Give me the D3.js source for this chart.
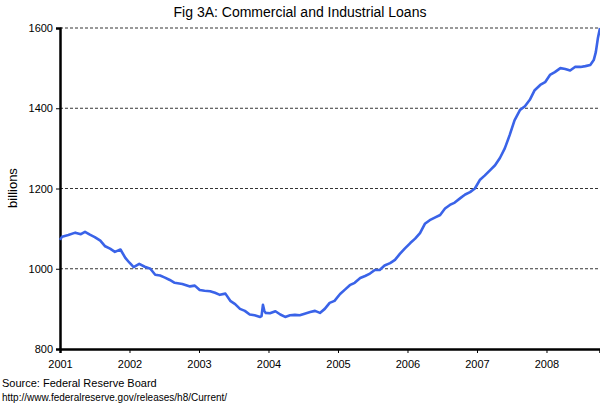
<!DOCTYPE html><html><head><script src="https://cdn.jsdelivr.net/npm/d3@7"></script>
<style>body{margin:0;background:#fff}text{font-family:"Liberation Sans",Arial,sans-serif}</style></head><body><svg width="600" height="405"></svg>
<script>
const dates=[2001.0,2001.03,2001.12,2001.22,2001.3,2001.36,2001.43,2001.5,2001.58,2001.65,2001.72,2001.79,2001.87,2001.94,2002.0,2002.06,2002.14,2002.22,2002.3,2002.37,2002.44,2002.51,2002.58,2002.65,2002.76,2002.87,2002.94,2003.01,2003.08,2003.16,2003.23,2003.3,2003.38,2003.45,2003.52,2003.59,2003.66,2003.73,2003.8,2003.88,2003.9,2003.92,2003.94,2003.96,2004.02,2004.1,2004.17,2004.24,2004.31,2004.38,2004.45,2004.52,2004.6,2004.67,2004.74,2004.81,2004.88,2004.95,2005.03,2005.1,2005.17,2005.24,2005.32,2005.39,2005.46,2005.53,2005.6,2005.67,2005.75,2005.82,2005.89,2005.96,2006.04,2006.11,2006.18,2006.25,2006.32,2006.4,2006.47,2006.54,2006.61,2006.68,2006.76,2006.83,2006.9,2006.97,2007.04,2007.11,2007.19,2007.26,2007.33,2007.4,2007.47,2007.54,2007.62,2007.69,2007.76,2007.83,2007.91,2007.98,2008.05,2008.12,2008.2,2008.27,2008.34,2008.41,2008.49,2008.56,2008.63,2008.68,2008.71,2008.74,2008.77];
const values=[1072,1080,1084,1090,1086,1092,1085,1079,1070,1056,1050,1042,1048,1027,1015,1004,1012,1005,1000,985,983,978,972,965,962,956,958,947,945,944,940,935,938,920,912,900,895,886,884,880,882,910,895,890,889,894,886,880,884,885,884,888,892,895,890,900,915,920,937,948,959,965,977,982,988,997,997,1008,1014,1022,1037,1050,1064,1075,1089,1112,1121,1128,1134,1150,1159,1165,1176,1185,1191,1200,1221,1232,1246,1258,1276,1300,1333,1370,1396,1405,1421,1445,1458,1465,1483,1490,1500,1498,1494,1503,1503,1505,1508,1520,1540,1575,1600];
const yTicks=[800,1000,1200,1400,1600];
const xTicks=[2001,2002,2003,2004,2005,2006,2007,2008];
const svg=d3.select("svg");
const L=60,R=600,T=28,B=349;
const x=d3.scaleLinear().domain([2001,2008.77]).range([L,R]);
const y=d3.scaleLinear().domain([800,1600]).range([B,T]);
yTicks.slice(1).forEach(v=>svg.append("line").attr("x1",L).attr("x2",R).attr("y1",y(v)).attr("y2",y(v)).attr("stroke","#000").attr("stroke-width",0.8).attr("stroke-dasharray","3,2"));
svg.append("text").attr("x",300).attr("y",17).attr("text-anchor","middle").attr("font-size",14).text("Fig 3A: Commercial and Industrial Loans");
svg.append("text").attr("transform","translate(17,188) rotate(-90)").attr("text-anchor","middle").attr("font-size",13).text("billions");
const ya=svg.append("g").attr("transform",`translate(${L},0)`).call(d3.axisLeft(y).tickValues(yTicks).tickSize(4).tickFormat(d3.format("d")));
const xa=svg.append("g").attr("transform",`translate(0,${B})`).call(d3.axisBottom(x).tickValues(xTicks).tickSize(4).tickFormat(d3.format("d")));
[ya,xa].forEach(a=>{a.select(".domain").attr("stroke-width",2.5);a.selectAll("text").attr("font-size",11).attr("font-family","Liberation Sans,Arial");});
xa.selectAll("text").attr("dy","1.1em");
svg.append("path").datum(d3.zip(dates,values)).attr("fill","none").attr("stroke","#3a63e8").attr("stroke-width",2.6).attr("stroke-linejoin","round")
 .attr("d",d3.line().x(d=>x(d[0])).y(d=>y(d[1])));
svg.append("text").attr("x",2).attr("y",387).attr("font-size",11).text("Source: Federal Reserve Board");
svg.append("text").attr("x",2).attr("y",401).attr("font-size",10).text("http://www.federalreserve.gov/releases/h8/Current/");
</script></body></html>
